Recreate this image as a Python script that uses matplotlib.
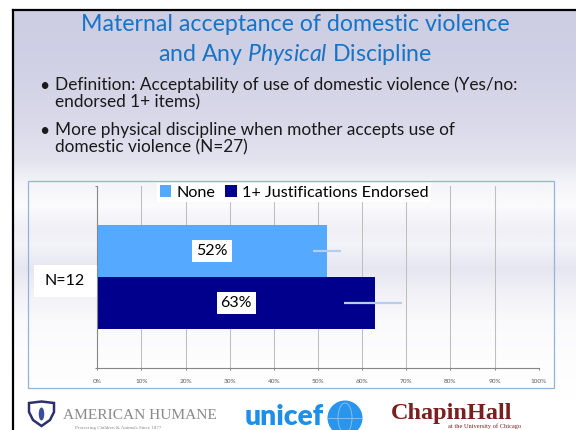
import matplotlib
matplotlib.use('Agg')
import numpy as np
import matplotlib.pyplot as plt
from matplotlib.patches import Rectangle, Polygon, Circle, Ellipse

plt.rcParams['font.family'] = ['Lato', 'DejaVu Sans']
plt.rcParams['mathtext.fontset'] = 'custom'
plt.rcParams['mathtext.rm'] = 'Lato'
plt.rcParams['mathtext.it'] = 'Lato:italic'

# ---- data ----
groups = ['N=12']
series = ['None', '1+ Justifications Endorsed']
pct = [52, 63]
err_lo = [3.1, 7.1]
err_hi = [3.2, 6.0]
x_ticks = list(range(0, 101, 10))
tick_labels = [f'{t}%' for t in x_ticks]

title_lines = ['Maternal acceptance of domestic violence',
               'and Any $\\mathit{Physical}$ Discipline']
bullets = [['Definition: Acceptability of use of domestic violence (Yes/no:',
            'endorsed 1+ items)'],
           ['More physical discipline when mother accepts use of',
            'domestic violence (N=27)']]

bar_colors = ['#55A9FF', '#00008C']
title_color = '#1673C6'

W, H = 576, 430


def fx(x):
    return x / W


def fy(y):
    return 1 - y / H


fig = plt.figure(figsize=(W / 100, H / 100), dpi=100)

# slide layer, drawn in pixel units (y grows downward)
bg = fig.add_axes([0, 0, 1, 1], zorder=0)
bg.set_xlim(0, W)
bg.set_ylim(H, 0)
bg.set_axis_off()

rows = np.arange(H)
shade = np.interp(rows,
                  [0, 10, 60, 120, 160, 185, 205, 228, 245, 268, 290, 320, 360, 400, 430],
                  [1.0, 1.0, 0.95, 0.78, 0.55, 0.2, 0.08, 0.3, 0.25, 0.5, 0.3, 0.1, 0.04, 0.0, 0.0])
white = np.array([1.0, 1.0, 1.0])
lav = np.array([205, 206, 227]) / 255
img = white - shade[:, None, None] * (white - lav)[None, None, :]
img = np.repeat(img, W, axis=1)
img[:9, :, :] = 1.0
img[:, :12, :] = 1.0
bg.imshow(img, extent=[0, W, H, 0], aspect='auto', zorder=0)

# slide frame
bg.plot([12.5, 12.5], [9.5, H], color='black', lw=1.6, zorder=1)
bg.plot([12.5, W], [9.5, 9.5], color='black', lw=1.6, zorder=1)

# title
bg.text(295.5, 31, title_lines[0], ha='center', va='baseline',
        fontsize=16.7, color=title_color, zorder=2)
bg.text(295.5, 61, title_lines[1], ha='center', va='baseline',
        fontsize=16.7, color=title_color, zorder=2)

# bullet points
base = [[90, 107], [135, 152.5]]
for lines, ys in zip(bullets, base):
    bg.text(44, ys[0] - 4, '\u2022', ha='center', va='center', fontsize=12.5,
            color='#1A1A1A', zorder=2)
    for line, yb in zip(lines, ys):
        bg.text(55, yb, line, ha='left', va='baseline', fontsize=12.4,
                color='#1A1A1A', zorder=2)

# chart frame and category label
bg.add_patch(Rectangle((28.3, 180.7), 525.4, 207.6, fill=False,
                       ec='#95B3D7', lw=0.9, zorder=2))
bg.add_patch(Rectangle((34, 265), 62.7, 31.7, fc='white', ec='none', zorder=2))
bg.text(65, 281, groups[0], ha='center', va='center', fontsize=11.5,
        color='black', zorder=3)

# ---- chart ----
ax = fig.add_axes([fx(97.3), fy(367.7), (538.7 - 97.3) / W, (367.7 - 185.7) / H],
                  zorder=1)
ax.set_facecolor('none')
ax.set_xlim(0, 100)
ax.set_ylim(0, 1)

h = 0.285
ypos = [0.5 + h / 2, 0.5 - h / 2]
for i in range(len(series)):
    ax.barh(ypos[i], pct[i], height=h, color=bar_colors[i], label=series[i], zorder=2)
    ax.errorbar(pct[i], ypos[i], xerr=[[err_lo[i]], [err_hi[i]]], fmt='none',
                ecolor='#B4CDF0', elinewidth=1.6, capsize=0, zorder=3)
    ax.text(pct[i] / 2, ypos[i], f'{pct[i]}%', ha='center', va='center',
            fontsize=11.5, color='black', zorder=4,
            bbox=dict(boxstyle='square,pad=0.25', fc='white', ec='none'))

ax.set_xticks(x_ticks)
ax.set_xticklabels(tick_labels, fontsize=4.6, color='#595959')
ax.set_yticks([0, 1])
ax.set_yticklabels([])
ax.xaxis.grid(True, color='#BFBFBF', lw=0.75)
ax.set_axisbelow(True)
ax.tick_params(axis='x', length=1.5, width=0.75, color='#878787', pad=6.5)
ax.tick_params(axis='y', length=1.5, width=0.75, color='#878787')
for s in ['top', 'right']:
    ax.spines[s].set_visible(False)
for s in ['left', 'bottom']:
    ax.spines[s].set_color('#878787')
    ax.spines[s].set_linewidth(0.8)

leg = ax.legend(loc='center', bbox_to_anchor=(fx(294), fy(192.6)),
                bbox_transform=fig.transFigure, ncol=2, frameon=True,
                fancybox=False, framealpha=1, facecolor='white', edgecolor='none',
                fontsize=11.6, handlelength=0.72, handleheight=0.72,
                handletextpad=0.32, columnspacing=0.6, borderpad=0.15,
                borderaxespad=0)
leg.set_zorder(5)

# ---- partner logos ----
# American Humane
bg.add_patch(Polygon([(29, 403), (41.5, 401.5), (54, 403), (54, 412), (50, 420),
                      (41.5, 426), (33, 420), (29, 412)], closed=True,
                     fc='white', ec='#2E2F6E', lw=1.8, zorder=2))
bg.add_patch(Ellipse((41.5, 414), 5.5, 13, fc='#3C4C9C', ec='none', zorder=3))
bg.text(63, 419.3, 'AMERICAN HUMANE', ha='left', va='baseline', fontsize=11.1,
        family='Liberation Serif', color='#8A8A8A', zorder=2)
bg.text(75, 427.5, 'Protecting Children & Animals Since 1877', ha='left',
        va='center', fontsize=3.6, family='Liberation Serif', color='#8A8A8A', zorder=2)

# unicef
bg.text(245, 425, 'unicef', ha='left', va='baseline', fontsize=20.3,
        fontweight='heavy', color='#1E8FE8', zorder=2)
bg.add_patch(Circle((345, 418), 17.5, fc='#2A95EC', ec='none', zorder=2))
bg.add_patch(Ellipse((345, 418), 14, 30, fill=False, ec='#8CC6F5', lw=0.6, zorder=3))
bg.plot([328, 362], [418, 418], color='#8CC6F5', lw=0.6, zorder=3)

# Chapin Hall
bg.add_patch(Rectangle((388, 401.7), 177, 28.3, fc='white', ec='none', zorder=2))
bg.text(391.3, 419.3, 'ChapinHall', ha='left', va='baseline', fontsize=17.5,
        fontweight='bold', family='Liberation Serif', color='#7A1F1F', zorder=3)
bg.text(448, 426.5, 'at the University of Chicago', ha='left', va='center',
        fontsize=4.6, family='Liberation Serif', color='#7A1F1F', zorder=3)

fig.savefig('out.png', dpi=100)
